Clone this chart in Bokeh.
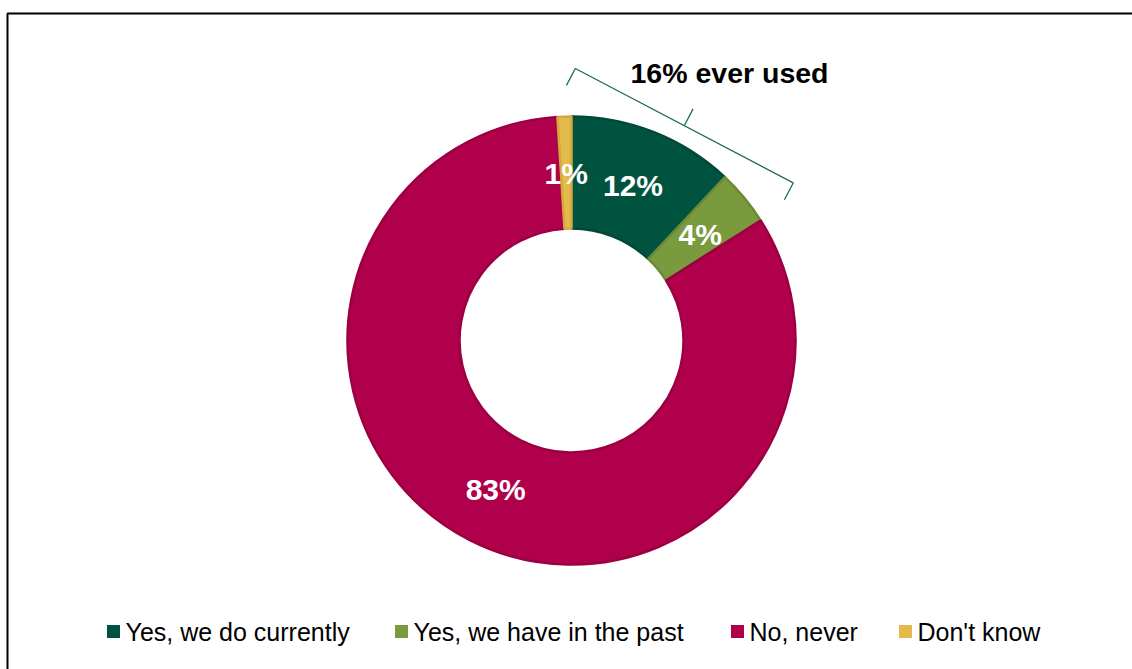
import numpy as np
from bokeh.plotting import figure
from bokeh.models import Range1d, ColumnDataSource
from bokeh.core.properties import value
from bokeh.embed import file_html
from bokeh.resources import INLINE

# ---- data ----
categories = ["Yes, we do currently", "Yes, we have in the past", "No, never", "Don't know"]
values = [12, 4, 83, 1]
colors = ["#00533F", "#7A9A3E", "#B0004B", "#E4BA4B"]
edge_colors = ["#00493A", "#6C8A35", "#9C0043", "#D3A93F"]
ever_used = ["Yes, we do currently", "Yes, we have in the past"]

# ---- layout constants ----
W, H = 1132, 669
cx, cy = 571, H - 340
r_in, r_out = 112, 224
r_lab = 167
FONT = "Liberation Sans"

p = figure(width=W, height=H, x_range=Range1d(0, W), y_range=Range1d(0, H),
           output_backend="svg", toolbar_location=None, min_border=0,
           x_axis_location=None, y_axis_location=None)
p.grid.visible = False
p.outline_line_color = None
p.background_fill_color = "white"
p.border_fill_color = "white"

total = float(sum(values))
frac = np.array(values) / total
cum_end = np.cumsum(frac)
cum_start = cum_end - frac
start = np.pi / 2 - 2 * np.pi * cum_start
end = np.pi / 2 - 2 * np.pi * cum_end
mid = (start + end) / 2

src = ColumnDataSource(dict(cat=categories, val=values, start=start, end=end,
                            color=colors, edge=edge_colors,
                            lx=cx + r_lab * np.cos(mid), ly=cy + r_lab * np.sin(mid),
                            lab=[f"{v}%" for v in values]))

p.annular_wedge(x=cx, y=cy, inner_radius=r_in, outer_radius=r_out,
                start_angle="start", end_angle="end", direction="clock",
                fill_color="color", line_color="edge", line_width=2.5, source=src)

p.text(x="lx", y="ly", text="lab", source=src, text_color="white",
       text_font=value(FONT), text_font_style="bold", text_font_size="30px",
       text_align="center", text_baseline="middle")

# ---- bracket for "ever used" ----
ever_frac = sum(v for c, v in zip(categories, values) if c in ever_used) / total
r_br = 272
a1 = np.pi / 2 - np.radians(0.8)
a2 = np.pi / 2 - 2 * np.pi * ever_frac + np.radians(3.0)
p1 = np.array([cx + r_br * np.cos(a1), cy + r_br * np.sin(a1)])
p2 = np.array([cx + r_br * np.cos(a2), cy + r_br * np.sin(a2)])
d = (p2 - p1) / np.linalg.norm(p2 - p1)
n_in = np.array([-d[1], d[0]])
if np.dot(n_in, np.array([cx, cy]) - p1) < 0:
    n_in = -n_in
tick = 19
pm = (p1 + p2) / 2
xs = [[p1[0] + n_in[0] * tick, p1[0], p2[0], p2[0] + n_in[0] * tick],
      [pm[0], pm[0] - n_in[0] * tick]]
ys = [[p1[1] + n_in[1] * tick, p1[1], p2[1], p2[1] + n_in[1] * tick],
      [pm[1], pm[1] - n_in[1] * tick]]
p.multi_line(xs=xs, ys=ys, line_color="#1D6B5A", line_width=1.3)

p.text(x=[729], y=[H - 72], text=[f"{int(round(ever_frac * 100))}% ever used"],
       text_color="black", text_font=value(FONT), text_font_style="bold",
       text_font_size="28.5px", text_align="center", text_baseline="middle")

# ---- legend ----
leg_x = [113, 401, 737, 905]
leg_y = H - 631
p.scatter(x=leg_x, y=[leg_y] * 4, marker="square", size=13,
          fill_color=colors, line_color=None)
p.text(x=[x + 12 for x in leg_x], y=[leg_y] * 4, text=categories,
       text_color="black", text_font=value(FONT), text_font_size="25px",
       text_align="left", text_baseline="middle")

# ---- outer frame ----
p.line(x=[7, 7, W], y=[0, H - 13, H - 13], line_color="black", line_width=2)

open("out.html", "w").write(file_html(p, INLINE))
